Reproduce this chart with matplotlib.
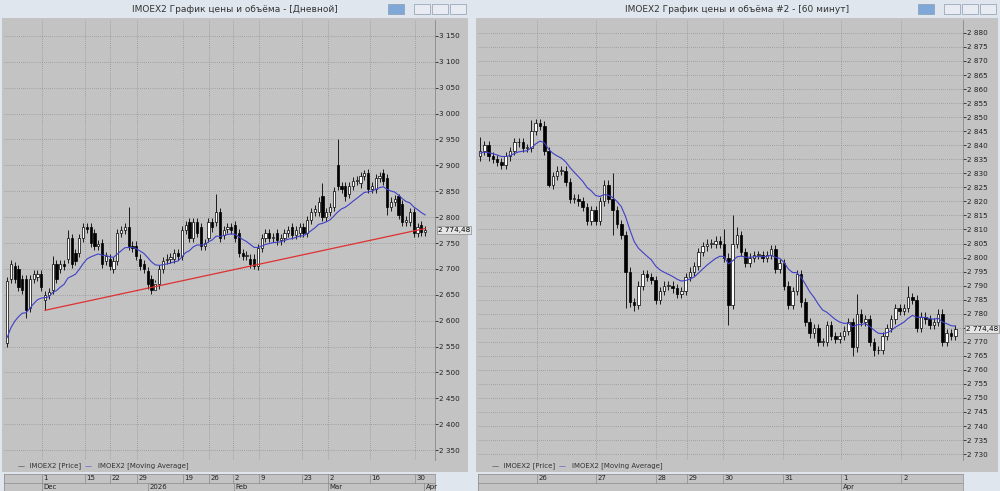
import numpy as np
import pandas as pd
import matplotlib
matplotlib.use("Agg")
import matplotlib.pyplot as plt
from matplotlib.patches import Rectangle

W, H = 1000, 491

# ---- daily panel (left) ----
d_open = [2556, 2680, 2705, 2700, 2680, 2680, 2625, 2680, 2685, 2690,
          2640, 2650, 2660, 2710, 2700, 2710, 2720, 2760, 2730, 2730,
          2760, 2780, 2780, 2770, 2745, 2750, 2715, 2720, 2700, 2715,
          2770, 2775, 2780, 2745, 2745, 2720, 2710, 2695, 2680, 2660,
          2670, 2700, 2718, 2720, 2720, 2730, 2725, 2775, 2790, 2760,
          2790, 2780, 2745, 2760, 2790, 2790, 2810, 2765, 2778, 2780,
          2785, 2770, 2730, 2725, 2720, 2720, 2705, 2740, 2760, 2770,
          2760, 2770, 2755, 2760, 2770, 2780, 2765, 2770, 2780, 2770,
          2795, 2810, 2810, 2840, 2800, 2810, 2820, 2900, 2860, 2860,
          2845, 2860, 2870, 2865, 2880, 2885, 2855, 2855, 2875, 2885,
          2875, 2820, 2830, 2840, 2825, 2790, 2790, 2810, 2770, 2785, 2772]
d_close = [2677, 2710, 2680, 2665, 2660, 2620, 2680, 2690, 2690, 2665,
           2650, 2655, 2710, 2680, 2710, 2705, 2760, 2710, 2715, 2760,
           2780, 2778, 2750, 2745, 2748, 2710, 2725, 2705, 2715, 2770,
           2775, 2780, 2745, 2740, 2725, 2705, 2700, 2670, 2660, 2670,
           2700, 2715, 2720, 2722, 2730, 2725, 2775, 2785, 2760, 2790,
           2770, 2745, 2750, 2790, 2780, 2810, 2760, 2775, 2780, 2775,
           2760, 2730, 2725, 2727, 2710, 2705, 2740, 2760, 2770, 2760,
           2762, 2755, 2760, 2770, 2775, 2765, 2775, 2780, 2770, 2795,
           2810, 2815, 2830, 2800, 2810, 2820, 2850, 2860, 2855, 2840,
           2860, 2870, 2872, 2880, 2885, 2855, 2860, 2875, 2880, 2870,
           2820, 2830, 2835, 2805, 2790, 2795, 2810, 2770, 2780, 2772, 2774.48]
d_spikes_hi = {12: 2725, 16: 2775, 32: 2820, 55: 2845, 83: 2865, 87: 2950, 94: 2892, 103: 2845}
d_spikes_lo = {0: 2550, 5: 2605, 10: 2620, 39: 2675, 65: 2700, 100: 2805}
d_ma_seed = 2550
d_ticks = [9.2, 20.5, 27.1, 34.2, 46.3, 53.2, 59.5, 66.3, 77.6, 84.5, 95.5, 107.4]
d_tick_labels = ["1", "15", "22", "29", "19", "26", "2", "9", "23", "2", "16", "30"]
d_month_pos = [9.2, 37.1, 59.7, 84.5, 109.7]
d_month_labels = ["Dec", "2026", "Feb", "Mar", "Apr"]
d_yticks = list(range(2350, 3151, 50))
trend_x = [10, 110]
trend_y = [2620, 2778]

# ---- 60 minute panel (right) ----
h_close = [2838, 2840, 2836, 2835, 2834, 2833, 2836, 2838, 2841, 2841, 2839, 2839,
           2845, 2848, 2847, 2838, 2826, 2829, 2831, 2831, 2827, 2821, 2821, 2820, 2818, 2813,
           2817, 2813, 2820, 2826, 2821, 2817, 2812, 2808, 2795, 2784, 2783, 2790, 2794, 2793, 2792,
           2785, 2788, 2790, 2790, 2789, 2787, 2788,
           2793, 2795, 2797, 2802, 2804, 2805, 2805, 2806,
           2805, 2800, 2783, 2805, 2808, 2802, 2798, 2800, 2801, 2801, 2800, 2801, 2803,
           2796, 2798, 2790, 2783, 2788, 2794, 2784, 2777, 2773, 2775, 2770, 2770, 2776, 2772,
           2771, 2772, 2774, 2777,
           2768, 2780, 2777, 2778, 2770, 2767, 2767, 2772, 2775, 2778, 2782, 2781, 2782,
           2786, 2785, 2775, 2779, 2778, 2776, 2777, 2780, 2770, 2773, 2772, 2774.48]
h_first_open = 2836
h_spikes_hi = {0: 2843, 12: 2849, 31: 2830, 57: 2810, 59: 2815, 60: 2811, 88: 2787, 100: 2790}
h_spikes_lo = {16: 2825, 34: 2782, 36: 2781, 58: 2776, 31: 2808, 87: 2765, 92: 2765}
h_ma_seed = 2837
h_ticks = [13.3, 27, 41, 48.4, 56.7, 70.7, 84.4, 98.4]
h_tick_labels = ["26", "27", "28", "29", "30", "31", "1", "2"]
h_month_pos = [84.4]
h_month_labels = ["Apr"]
h_yticks = list(range(2730, 2881, 5))

BG = "#c3c3c3"
FRAME = "#dfe6ee"


def px(x0, y0, x1, y1):
    return [x0 / W, 1 - y1 / H, (x1 - x0) / W, (y1 - y0) / H]


def fmt(v):
    return f"{int(v):,}".replace(",", " ")


def candles(ax, o, c, hi_sp, lo_sp, wick, width):
    o = np.asarray(o, float)
    c = np.asarray(c, float)
    x = np.arange(len(c))
    hi = np.maximum(o, c) + wick
    lo = np.minimum(o, c) - wick
    for k, v in hi_sp.items():
        hi[k] = v
    for k, v in lo_sp.items():
        lo[k] = v
    ax.vlines(x, lo, hi, color="black", lw=0.6, zorder=3)
    up = c >= o
    bot = np.minimum(o, c)
    hgt = np.maximum(np.abs(c - o), wick * 0.15)
    ax.bar(x[up], hgt[up], width, bot[up], color="white", edgecolor="black", lw=0.5, zorder=4)
    ax.bar(x[~up], hgt[~up], width, bot[~up], color="black", edgecolor="black", lw=0.5, zorder=4)


def panel(x0, x1, plot_x1, title, o, c, hi_sp, lo_sp, wick, xlim, ylim, yticks,
          ticks, tick_labels, mpos, mlabels, span, seed):
    fig.patches.append(Rectangle((x0 / W, 0), (x1 - x0) / W, 1, transform=fig.transFigure,
                                 color=FRAME, zorder=-5))
    fig.text((x0 + x1) / 2 / W, 1 - 9 / H, title, ha="center", va="center", fontsize=6.5,
             color="#333333")
    # window buttons
    for bx, col in [(x1 - 82, "#7fa7d8"), (x1 - 56, "#e8ecf2"), (x1 - 38, "#e8ecf2"), (x1 - 20, "#e8ecf2")]:
        fig.patches.append(Rectangle((bx / W, 1 - 14 / H), 16 / W, 10 / H, transform=fig.transFigure,
                                     facecolor=col, edgecolor="#8a9bb0", lw=0.5))
    body = fig.add_axes(px(x0 + 2, 18, x1 - 2, 472))
    body.set_facecolor(BG)
    body.set_xticks([]); body.set_yticks([])
    for s in body.spines.values():
        s.set_visible(False)

    ax = fig.add_axes(px(x0 + 4, 20, plot_x1, 460))
    ax.set_facecolor(BG)
    candles(ax, o, c, hi_sp, lo_sp, wick, 0.6)
    ma = pd.Series([seed] + list(c)).ewm(span=span, adjust=False).mean().iloc[1:]
    ax.plot(np.arange(len(c)), ma.values, color="#4040c8", lw=0.8, zorder=5)
    ax.set_xlim(*xlim)
    ax.set_ylim(*ylim)
    ax.set_xticks(ticks)
    ax.set_xticklabels([])
    ax.set_yticks(yticks)
    last = c[-1]
    ax.set_yticklabels(["" if abs(v - last) < (ylim[1] - ylim[0]) * 0.012 else fmt(v) for v in yticks],
                       fontsize=5.2, color="#222222")
    ax.yaxis.tick_right()
    ax.tick_params(axis="y", length=2, pad=1, width=0.5)
    ax.tick_params(axis="x", length=0)
    ax.grid(True, color="#808080", ls=(0, (1, 2)), lw=0.5)
    for s in ["top", "left", "bottom"]:
        ax.spines[s].set_visible(False)
    ax.spines["right"].set_color("#888888")
    ax.spines["right"].set_linewidth(0.6)
    ax.annotate("2 774,48", xy=(1, last), xycoords=("axes fraction", "data"),
                xytext=(2, 0), textcoords="offset points", fontsize=5.2, va="center",
                bbox=dict(boxstyle="square,pad=0.15", fc="#e6e6e6", ec="#888888", lw=0.5),
                annotation_clip=False, zorder=10)
    fig.text((x0 + 18) / W, 1 - 466 / H, "—  IMOEX2 [Price]", fontsize=5, color="#333333", va="center")
    fig.text((x0 + 85) / W, 1 - 466 / H, "—", fontsize=5, color="#4040c8", va="center")
    fig.text((x0 + 98) / W, 1 - 466 / H, "IMOEX2 [Moving Average]", fontsize=5, color="#333333", va="center")
    dax = fig.add_axes(px(x0 + 4, 474, plot_x1, 491))
    dax.set_facecolor(BG)
    dax.set_xlim(*xlim)
    dax.set_ylim(0, 2)
    dax.set_xticks([]); dax.set_yticks([])
    for s in dax.spines.values():
        s.set_color("#8a8a8a"); s.set_linewidth(0.5)
    dax.axhline(1, color="#8a8a8a", lw=0.5)
    for t, lab in zip(ticks, tick_labels):
        dax.plot([t, t], [1, 2], color="#8a8a8a", lw=0.5)
        dax.text(t + 0.4, 1.5, lab, fontsize=5, va="center", color="#222222")
    for t, lab in zip(mpos, mlabels):
        dax.plot([t, t], [0, 1], color="#8a8a8a", lw=0.5)
        dax.text(t + 0.4, 0.5, lab, fontsize=5, va="center", color="#222222")
    return ax


fig = plt.figure(figsize=(W / 100, H / 100), dpi=100)
fig.patch.set_facecolor(FRAME)

axl = panel(0, 470, 435, "IMOEX2 График цены и объёма - [Дневной]", d_open, d_close,
            d_spikes_hi, d_spikes_lo, 8, (-0.8, 112.6), (2330.7, 3180.9), d_yticks,
            d_ticks, d_tick_labels, d_month_pos, d_month_labels, 14, d_ma_seed)
axl.plot(trend_x, trend_y, color="#e03030", lw=0.9, zorder=6)

h_open = [h_first_open] + h_close[:-1]
axr = panel(474, 1000, 963, "IMOEX2 График цены и объёма #2 - [60 минут]", h_open, h_close,
            h_spikes_hi, h_spikes_lo, 1.5, (-0.47, 112.8), (2727.9, 2884.6), h_yticks,
            h_ticks, h_tick_labels, h_month_pos, h_month_labels, 12, h_ma_seed)

fig.savefig("out.png", dpi=100, facecolor=fig.get_facecolor())
